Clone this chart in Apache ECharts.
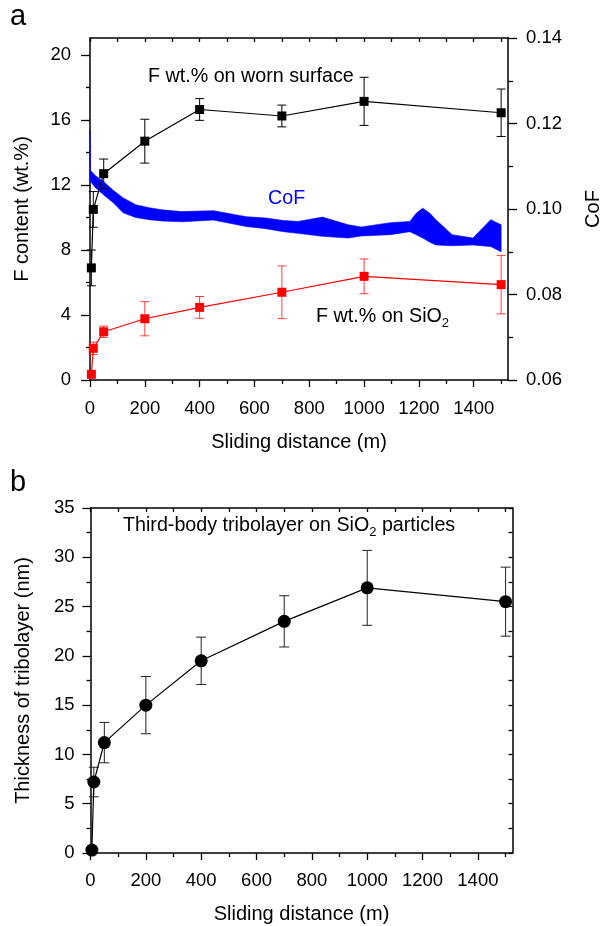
<!DOCTYPE html>
<html>
<head>
<meta charset="utf-8">
<script src="https://cdn.jsdelivr.net/npm/echarts@6/dist/echarts.min.js"></script>
<style>
html, body { margin: 0; padding: 0; background: #fff; }
#chart { width: 611px; height: 926px; }
</style>
</head>
<body>
<div id="chart"></div>
<script>
// sliding distance (m) of the measured points
const dist = [5, 12, 50, 200, 400, 700, 1000, 1500];
// F content on worn surface (wt.%) and error half-widths
const fWorn = [6.9, 10.5, 12.7, 14.7, 16.65, 16.25, 17.15, 16.45];
const fWornErr = [1.1, 1.1, 0.9, 1.35, 0.67, 0.67, 1.48, 1.46];
// F content on SiO2 (wt.%)
const fSiO2 = [0.35, 1.95, 2.97, 3.77, 4.47, 5.4, 6.38, 5.87];
const fSiO2Err = [0.1, 0.38, 0.35, 1.05, 0.67, 1.62, 1.07, 1.8];
// tribolayer thickness (nm)
const thick = [0.3, 7.2, 11.2, 15.0, 19.5, 23.5, 26.9, 25.5];
const thickErr = [0, 1.5, 2.05, 2.9, 2.4, 2.6, 3.8, 3.5];

// CoF band (lower / upper envelope of the friction trace)
const cofDist = [0, 2, 20, 50, 86, 121, 167, 216, 263, 334, 451, 570, 641, 706, 759, 848, 942, 990, 1096, 1167, 1190, 1214, 1240, 1262, 1321, 1397, 1462, 1500];
const cofHigh = [0.1185, 0.109, 0.1078, 0.1064, 0.1043, 0.1026, 0.1010, 0.1003, 0.0998, 0.0994, 0.0996, 0.0982, 0.0979, 0.0973, 0.0971, 0.0981, 0.0963, 0.0958, 0.0968, 0.0971, 0.0990, 0.1002, 0.0990, 0.0975, 0.0940, 0.0932, 0.0975, 0.0963];
const cofLow = [0.1064, 0.1064, 0.1050, 0.1033, 0.1014, 0.0991, 0.0980, 0.0975, 0.0972, 0.0970, 0.0974, 0.0959, 0.0954, 0.0947, 0.0943, 0.0936, 0.0932, 0.0937, 0.0940, 0.0947, 0.0940, 0.0932, 0.0922, 0.0916, 0.0914, 0.0916, 0.0912, 0.0900];

// tick values
const xTicks = [0, 200, 400, 600, 800, 1000, 1200, 1400];
const xMinorTicks = [100, 300, 500, 700, 900, 1100, 1300, 1500];
const xTopTicks = [0, 100, 200, 300, 400, 500, 600, 700, 800, 900, 1000, 1100, 1200, 1300, 1400, 1500];
const fTicks = [0, 4, 8, 12, 16, 20];
const fMinorTicks = [2, 6, 10, 14, 18];
const cofTicks = [0.06, 0.08, 0.10, 0.12, 0.14];
const cofMinorTicks = [0.07, 0.09, 0.11, 0.13];

const FONT = '"Liberation Sans", Arial, Helvetica, sans-serif';
const lbl = { color: '#000', fontSize: 18.5, fontFamily: FONT };
const nameStyle = { color: '#000', fontSize: 20, fontFamily: FONT };
const axLine = { onZero: false, lineStyle: { color: '#000', width: 1.5 } };
const noLine = { show: false, onZero: false };
const tickStyle = { color: '#000', width: 1.3 };

function xAxesFor(grid, labelMargin, nameGap) {
	return [
		{
			type: 'value', gridIndex: grid, position: 'bottom', min: 0, max: 1525,
			name: 'Sliding distance (m)', nameLocation: 'middle', nameGap: nameGap, nameTextStyle: nameStyle,
			axisLine: axLine,
			axisTick: { customValues: xTicks, length: 7, lineStyle: tickStyle },
			axisLabel: Object.assign({ customValues: xTicks, margin: labelMargin, formatter: v => String(v) }, lbl),
			splitLine: { show: false }
		},
		{
			type: 'value', gridIndex: grid, position: 'bottom', min: 0, max: 1525,
			axisLine: noLine,
			axisTick: { customValues: xMinorTicks, length: 4, lineStyle: tickStyle },
			axisLabel: { show: false }, splitLine: { show: false }
		},
		{
			type: 'value', gridIndex: grid, position: 'top', min: 0, max: 1525,
			axisLine: axLine,
			axisTick: { customValues: xTopTicks, inside: true, length: 4, lineStyle: tickStyle },
			axisLabel: { show: false }, splitLine: { show: false }
		}
	];
}

function errData(vals, errs) {
	return dist.map((d, i) => [d, vals[i] - errs[i], vals[i] + errs[i]]);
}

function errSeries(data, xi, yi, color, cap) {
	return {
		type: 'custom', xAxisIndex: xi, yAxisIndex: yi, z: 3, silent: true,
		encode: { x: 0, y: [1, 2] },
		data: data,
		renderItem(params, api) {
			const lo = api.coord([api.value(0), api.value(1)]);
			const hi = api.coord([api.value(0), api.value(2)]);
			const st = { stroke: color, lineWidth: 1 };
			return {
				type: 'group',
				children: [
					{ type: 'line', shape: { x1: lo[0], y1: lo[1], x2: hi[0], y2: hi[1] }, style: st },
					{ type: 'line', shape: { x1: hi[0] - cap, y1: hi[1], x2: hi[0] + cap, y2: hi[1] }, style: st },
					{ type: 'line', shape: { x1: lo[0] - cap, y1: lo[1], x2: lo[0] + cap, y2: lo[1] }, style: st }
				]
			};
		}
	};
}

const chart = echarts.init(document.getElementById('chart'), null, { renderer: 'canvas' });

const option = {
	animation: false,
	backgroundColor: '#fff',
	grid: [
		{ left: 90, top: 38, width: 430.7, height: 342 },
		{ left: 90.5, top: 508, width: 422, height: 345 }
	],
	xAxis: xAxesFor(0, 19, 52).concat(xAxesFor(1, 18, 51)),
	yAxis: [
		{
			type: 'value', gridIndex: 0, position: 'left', min: 0, max: 21.05,
			name: 'F content (wt.%)', nameLocation: 'middle', nameGap: 58, nameTextStyle: nameStyle,
			axisLine: axLine,
			axisTick: { customValues: fTicks, length: 9, lineStyle: tickStyle },
			axisLabel: Object.assign({ customValues: fTicks, margin: 19 }, lbl),
			splitLine: { show: false }
		},
		{
			type: 'value', gridIndex: 0, position: 'left', min: 0, max: 21.05,
			axisLine: noLine,
			axisTick: { customValues: fMinorTicks, length: 4, lineStyle: tickStyle },
			axisLabel: { show: false }, splitLine: { show: false }
		},
		{
			type: 'value', gridIndex: 0, position: 'right', min: 0.06, max: 0.14,
			name: 'CoF', nameLocation: 'middle', nameGap: 75, nameRotate: 90, nameTextStyle: nameStyle,
			axisLine: axLine,
			axisTick: { customValues: cofTicks, length: 9, lineStyle: tickStyle },
			axisLabel: Object.assign({ customValues: cofTicks, margin: 18, formatter: v => v.toFixed(2) }, lbl),
			splitLine: { show: false }
		},
		{
			type: 'value', gridIndex: 0, position: 'right', min: 0.06, max: 0.14,
			axisLine: noLine,
			axisTick: { customValues: cofMinorTicks, length: 5, lineStyle: tickStyle },
			axisLabel: { show: false }, splitLine: { show: false }
		},
		{
			type: 'value', gridIndex: 1, position: 'left', min: 0, max: 35, interval: 5,
			name: 'Thickness of tribolayer (nm)', nameLocation: 'middle', nameGap: 57, nameTextStyle: nameStyle,
			axisLine: axLine,
			axisTick: { length: 8, lineStyle: tickStyle },
			minorTick: { show: true, splitNumber: 2, length: 4, lineStyle: tickStyle },
			axisLabel: Object.assign({ margin: 16 }, lbl),
			splitLine: { show: false }, minorSplitLine: { show: false }
		},
		{
			type: 'value', gridIndex: 1, position: 'right', min: 0, max: 35, interval: 2.5,
			axisLine: axLine,
			axisTick: { inside: true, length: 4, lineStyle: tickStyle },
			axisLabel: { show: false }, splitLine: { show: false }
		}
	],
	graphic: [
		{ type: 'text', x: 10, y: 17, style: { text: 'a', font: '29px ' + FONT, fill: '#000', verticalAlign: 'middle' } },
		{ type: 'text', x: 10, y: 483, style: { text: 'b', font: '29px ' + FONT, fill: '#000', verticalAlign: 'middle' } },
		{ type: 'text', x: 148, y: 77, z: 10, style: { text: 'F wt.% on worn surface', font: '19.7px ' + FONT, fill: '#000', verticalAlign: 'middle' } },
		{ type: 'text', x: 268, y: 199, z: 10, style: { text: 'CoF', font: '19.7px ' + FONT, fill: '#0000ff', verticalAlign: 'middle' } },
		{
			type: 'text', x: 316, y: 317, z: 10,
			style: {
				text: '{m|F wt.% on SiO}{s|2}', verticalAlign: 'middle',
				rich: {
					m: { fontSize: 19.7, fontFamily: FONT, color: '#ff0000', lineHeight: 26 },
					s: { fontSize: 13, fontFamily: FONT, color: '#ff0000', lineHeight: 13, verticalAlign: 'bottom' }
				}
			}
		},
		{
			type: 'text', x: 123, y: 526, z: 10,
			style: {
				text: '{m|Third-body tribolayer on SiO}{s|2}{m| particles}', verticalAlign: 'middle',
				rich: {
					m: { fontSize: 19.7, fontFamily: FONT, color: '#000', lineHeight: 26 },
					s: { fontSize: 13, fontFamily: FONT, color: '#000', lineHeight: 13, verticalAlign: 'bottom' }
				}
			}
		}
	],
	series: [
		{
			// CoF band: upper envelope then lower envelope back, filled
			type: 'custom', xAxisIndex: 0, yAxisIndex: 2, z: 1, silent: true,
			data: [[cofDist[0], cofLow[0]]],
			renderItem(params, api) {
				const pts = cofDist.map((d, i) => api.coord([d, cofHigh[i]]));
				for (let i = cofDist.length - 1; i >= 0; i--) {
					pts.push(api.coord([cofDist[i], cofLow[i]]));
				}
				return {
					type: 'polygon', shape: { points: pts },
					style: { fill: '#0000ff', stroke: '#0000ff', lineWidth: 0.6 }
				};
			}
		},
		errSeries(errData(fWorn, fWornErr), 0, 0, '#000', 4.5),
		errSeries(errData(fSiO2, fSiO2Err), 0, 0, 'rgba(255,0,0,0.75)', 4.5),
		{
			type: 'line', xAxisIndex: 0, yAxisIndex: 0, z: 5,
			symbol: 'rect', symbolSize: 9, itemStyle: { color: '#000' },
			lineStyle: { color: '#000', width: 1.2 },
			data: dist.map((d, i) => [d, fWorn[i]])
		},
		{
			type: 'line', xAxisIndex: 0, yAxisIndex: 0, z: 5,
			symbol: 'rect', symbolSize: 9, itemStyle: { color: '#ff0000' },
			lineStyle: { color: '#ff0000', width: 1.2 },
			data: dist.map((d, i) => [d, fSiO2[i]])
		},
		errSeries(errData(thick, thickErr), 3, 4, '#222', 5),
		{
			type: 'line', xAxisIndex: 3, yAxisIndex: 4, z: 5,
			symbol: 'circle', symbolSize: 13, itemStyle: { color: '#000' },
			lineStyle: { color: '#000', width: 1.2 },
			data: dist.map((d, i) => [d, thick[i]])
		}
	]
};

chart.setOption(option);
</script>
</body>
</html>
